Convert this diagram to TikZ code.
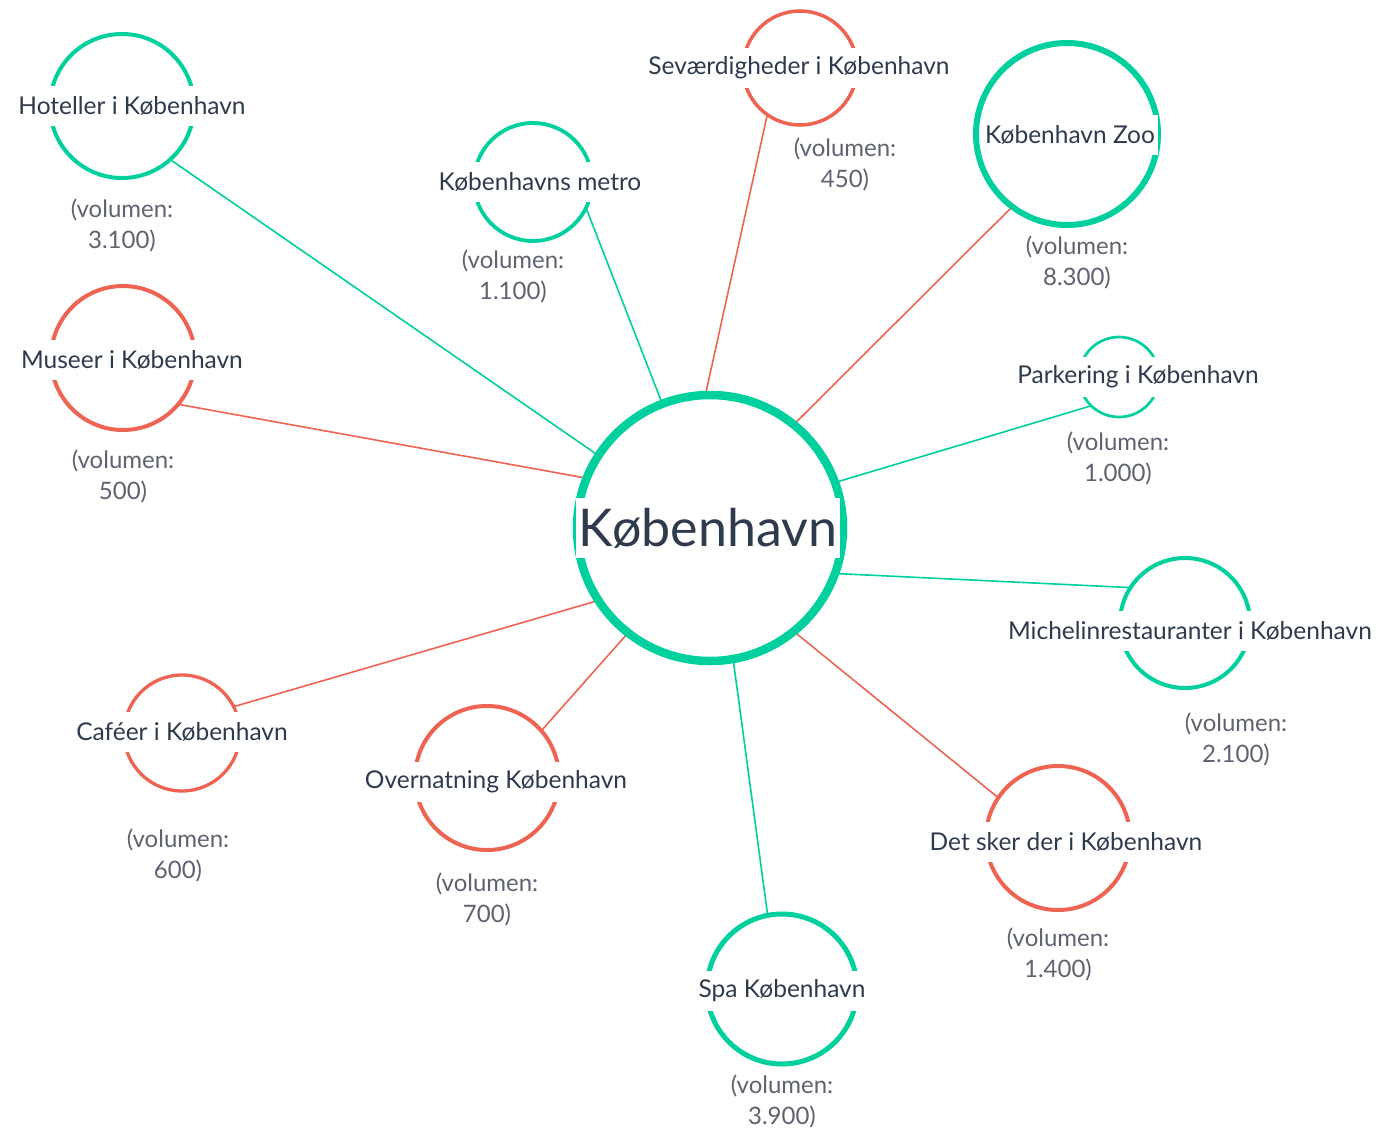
\documentclass[tikz,border=0pt]{standalone}
\usepackage{fontspec}
\setmainfont{Lato}
\definecolor{gr}{HTML}{00CF9E}
\definecolor{rd}{HTML}{EE6352}
\definecolor{ink}{HTML}{2F3B4C}
\definecolor{vol}{HTML}{5F6270}
\pgfdeclarelayer{bg}
\pgfsetlayers{bg,main}
\tikzset{
  ring/.style={circle, draw=#1, inner sep=0pt, outer sep=0pt},
  lbl/.style={fill=white, text=ink, inner xsep=3pt, inner ysep=0pt, minimum height=40pt, font=\fontsize{24.5}{28}\selectfont},
  volbox/.style={text=vol, align=center, font=\fontsize{24}{31}\selectfont, inner sep=0pt},
  link/.style={draw=#1, line width=1.6pt}
}
\begin{document}
\begin{tikzpicture}[x=1pt,y=-1pt]
\useasboundingbox (0,0) rectangle (1377,1128);
% circles
\node[ring=gr, line width=8.5pt, minimum size=266pt] (c) at (710,528) {};
\node[ring=gr, line width=4pt, minimum size=144pt] (hot) at (122,106) {};
\node[ring=rd, line width=4pt, minimum size=144pt] (mus) at (123,358) {};
\node[ring=gr, line width=3.8pt, minimum size=118pt] (met) at (533,182) {};
\node[ring=rd, line width=3.5pt, minimum size=114pt] (sev) at (800,68) {};
\node[ring=gr, line width=6pt, minimum size=182pt] (zoo) at (1067,134) {};
\node[ring=gr, line width=2.7pt, minimum size=80pt] (par) at (1119,377) {};
\node[ring=gr, line width=4pt, minimum size=130pt] (mic) at (1185,623) {};
\node[ring=rd, line width=4pt, minimum size=144pt] (det) at (1058,838) {};
\node[ring=gr, line width=5pt, minimum size=150pt] (spa) at (782,989) {};
\node[ring=rd, line width=4pt, minimum size=144pt] (ove) at (487,778) {};
\node[ring=rd, line width=3.3pt, minimum size=116pt] (caf) at (182,733) {};
% connectors
\begin{pgfonlayer}{bg}
\draw[link=gr] (hot.-48) -- (c.147);
\draw[link=rd] (mus.-40) -- (c.158.6);
\draw[link=gr] (met.-26.6) -- (c.111);
\draw[link=rd] (sev.-125.5) -- (c.92);
\draw[link=rd] (zoo.-127.6) -- (c.51);
\draw[link=gr] (par.-134.5) -- (c.20.8);
\draw[link=gr] (mic.147.5) -- (c.-20.3);
\draw[link=rd] (det.146.8) -- (c.-51.4);
\draw[link=gr] (spa.101) -- (c.-80);
\draw[link=rd] (ove.41.5) -- (c.-128.6);
\draw[link=rd] (caf.27.4) -- (c.-147.9);
\end{pgfonlayer}
% labels
\node[lbl, minimum height=60pt, font=\fontsize{52}{58}\selectfont] (cl) at (708,528) {København};
\node[lbl] (hotl) at (132,106) {Hoteller i København};
\node[lbl] (musl) at (132,360) {Museer i København};
\node[lbl] (metl) at (540,182) {Københavns metro};
\node[lbl] (sevl) at (799,68) {Seværdigheder i København};
\node[lbl] (zool) at (1070,135) {København Zoo};
\node[lbl] (parl) at (1138,377) {Parkering i København};
\node[lbl] (micl) at (1190,631) {Michelinrestauranter i København};
\node[lbl] (detl) at (1066,842) {Det sker der i København};
\node[lbl] (spal) at (782,991) {Spa København};
\node[lbl] (ovel) at (496,782) {Overnatning København};
\node[lbl] (cafl) at (182,732) {Caféer i København};
% volumes
\node[volbox] (hotv) at (122,225) {(volumen:\\3.100)};
\node[volbox] (musv) at (123,476) {(volumen:\\500)};
\node[volbox] (metv) at (513,276) {(volumen:\\1.100)};
\node[volbox] (sevv) at (845,164) {(volumen:\\450)};
\node[volbox] (zoov) at (1077,262) {(volumen:\\8.300)};
\node[volbox] (parv) at (1118,458) {(volumen:\\1.000)};
\node[volbox] (micv) at (1236,739) {(volumen:\\2.100)};
\node[volbox] (detv) at (1058,954) {(volumen:\\1.400)};
\node[volbox] (spav) at (782,1101) {(volumen:\\3.900)};
\node[volbox] (ovev) at (487,899) {(volumen:\\700)};
\node[volbox] (cafv) at (178,855) {(volumen:\\600)};
\end{tikzpicture}
\end{document}
